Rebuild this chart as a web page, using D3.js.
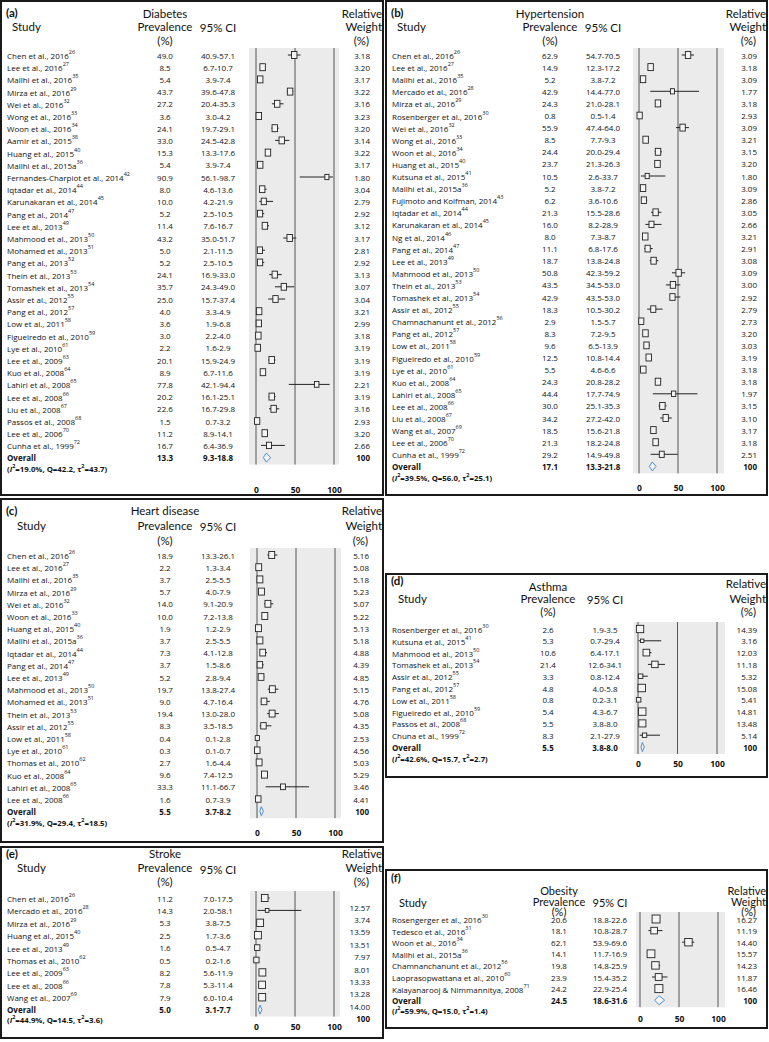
<!DOCTYPE html>
<html><head><meta charset="utf-8">
<script src="https://cdn.jsdelivr.net/npm/d3@7"></script>
<style>body{margin:0;background:#fff}svg{display:block}</style>
</head><body>
<svg id="c" width="769" height="1042"></svg>
<script>
const axisTicks = [0, 50, 100];

// (a) Diabetes
const diabetesStudies = ["Chen et al., 2016","Lee et al., 2016","Mallhi et al., 2016","Mirza et al., 2016","Wei et al., 2016","Wong et al., 2016","Woon et al., 2016","Aamir et al., 2015","Huang et al., 2015","Mallhi et al., 2015a","Fernandes-Charpiot et al., 2014","Iqtadar et al., 2014","Karunakaran et al., 2014","Pang et al., 2014","Lee et al., 2013","Mahmood et al., 2013","Mohamed et al., 2013","Pang et al., 2013","Thein et al., 2013","Tomashek et al., 2013","Assir et al., 2012","Pang et al., 2012","Low et al., 2011","Figueiredo et al., 2010","Lye et al., 2010","Lee et al., 2009","Kuo et al., 2008","Lahiri et al., 2008","Lee et al., 2008","Liu et al., 2008","Passos et al., 2008","Lee et al., 2006","Cunha et al., 1999"];
const diabetesRefs = ["26","27","35","29","32","33","34","38","40","36","42","44","45","47","49","50","51","52","53","54","55","57","58","59","61","63","64","65","66","67","68","70","72"];
const diabetesPrev = [49.0,8.5,5.4,43.7,27.2,3.6,24.1,33.0,15.3,5.4,90.9,8.0,10.0,5.2,11.4,43.2,5.0,5.2,24.1,35.7,25.0,4.0,3.6,3.0,2.2,20.1,8.9,77.8,20.2,22.6,1.5,11.2,16.7];
const diabetesLow = [40.9,6.7,3.9,39.6,20.4,3.0,19.7,24.5,13.3,3.9,56.1,4.6,4.2,2.5,7.6,35.0,2.1,2.5,16.9,24.3,15.7,3.3,1.9,2.2,1.6,15.9,6.7,42.1,16.1,16.7,0.7,8.9,6.4];
const diabetesHigh = [57.1,10.7,7.4,47.8,35.3,4.2,29.1,42.8,17.6,7.4,98.7,13.6,21.9,10.5,16.7,51.7,11.5,10.5,33.0,49.0,37.4,4.9,6.8,4.0,2.9,24.9,11.6,94.4,25.1,29.8,3.2,14.1,36.9];
const diabetesWeight = [3.18,3.20,3.17,3.22,3.16,3.23,3.20,3.14,3.22,3.17,1.80,3.04,2.79,2.92,3.12,3.17,2.81,2.92,3.13,3.07,3.04,3.21,2.99,3.18,3.19,3.19,3.19,2.21,3.19,3.16,2.93,3.20,2.66];
const diabetesOverall = [13.3, 9.3, 18.8];
const diabetesHet = [19.0, 42.2, 43.7];

// (b) Hypertension
const hyperStudies = ["Chen et al., 2016","Lee et al., 2016","Mallhi et al., 2016","Mercado et al., 2016","Mirza et al., 2016","Rosenberger et al., 2016","Wei et al., 2016","Wong et al., 2016","Woon et al., 2016","Huang et al., 2015","Kutsuna et al., 2015","Mallhi et al., 2015a","Fujimoto and Koifman, 2014","Iqtadar et al., 2014","Karunakaran et al., 2014","Ng et al., 2014","Pang et al., 2014","Lee et al., 2013","Mahmood et al., 2013","Thein et al., 2013","Tomashek et al., 2013","Assir et al., 2012","Chamnachanunt et al., 2012","Pang et al., 2012","Low et al., 2011","Figueiredo et al., 2010","Lye et al., 2010","Kuo et al., 2008","Lahiri et al., 2008","Lee et al., 2008","Liu et al., 2008","Wang et al., 2007","Lee et al., 2006","Cunha et al., 1999"];
const hyperRefs = ["26","27","35","28","29","30","32","33","34","40","41","36","43","44","45","46","47","49","50","53","54","55","56","57","58","59","61","64","65","66","67","69","70","72"];
const hyperPrev = [62.9,14.9,5.2,42.9,24.3,0.8,55.9,8.5,24.4,23.7,10.5,5.2,6.2,21.3,16.0,8.0,11.1,18.7,50.8,43.5,42.9,18.3,2.9,8.3,9.6,12.5,5.5,24.3,44.4,30.0,34.2,18.5,21.3,29.2];
const hyperLow = [54.7,12.3,3.8,14.4,21.0,0.5,47.4,7.7,20.0,21.3,2.6,3.8,3.6,15.5,8.2,7.3,6.8,13.8,42.3,34.5,43.5,10.5,1.5,7.2,6.5,10.8,4.6,20.8,17.7,25.1,27.2,15.6,18.2,14.9];
const hyperHigh = [70.5,17.2,7.2,77.0,28.1,1.4,64.0,9.3,29.4,26.3,33.7,7.2,10.6,28.6,28.9,8.7,17.6,24.8,59.2,53.0,53.0,30.2,5.7,9.5,13.9,14.4,6.6,28.2,74.9,35.3,42.0,21.8,24.8,49.8];
const hyperWeight = [3.09,3.18,3.09,1.77,3.18,2.93,3.09,3.21,3.15,3.20,1.80,3.09,2.86,3.05,2.66,3.21,2.91,3.08,3.09,3.00,2.92,2.79,2.73,3.20,3.03,3.19,3.18,3.18,1.97,3.15,3.10,3.17,3.18,2.51];
const hyperOverall = [17.1, 13.3, 21.8];
const hyperHet = [39.5, 56.0, 25.1];

// (c) Heart disease
const heartStudies = ["Chen et al., 2016","Lee et al., 2016","Mallhi et al., 2016","Mirza et al., 2016","Wei et al., 2016","Woon et al., 2016","Huang et al., 2015","Mallhi et al., 2015a","Iqtadar et al., 2014","Pang et al., 2014","Lee et al., 2013","Mahmood et al., 2013","Mohamed et al., 2013","Thein et al., 2013","Assir et al., 2012","Low et al., 2011","Lye et al., 2010","Thomas et al., 2010","Kuo et al., 2008","Lahiri et al., 2008","Lee et al., 2008"];
const heartRefs = ["26","27","35","29","32","33","40","36","44","47","49","50","51","53","55","58","61","62","64","65","66"];
const heartPrev = [18.9,2.2,3.7,5.7,14.0,10.0,1.9,3.7,7.3,3.7,5.2,19.7,9.0,19.4,8.3,0.4,0.3,2.7,9.6,33.3,1.6];
const heartLow = [13.3,1.3,2.5,4.0,9.1,7.2,1.2,2.5,4.1,1.5,2.8,13.8,4.7,13.0,3.5,0.1,0.1,1.6,7.4,11.1,0.7];
const heartHigh = [26.1,3.4,5.5,7.9,20.9,13.8,2.9,5.5,12.8,8.6,9.4,27.4,16.4,28.0,18.5,2.8,0.7,4.4,12.5,66.7,3.9];
const heartWeight = [5.16,5.08,5.18,5.23,5.07,5.22,5.13,5.18,4.88,4.39,4.85,5.15,4.76,5.08,4.35,2.53,4.56,5.03,5.29,3.46,4.41];
const heartOverall = [5.5, 3.7, 8.2];
const heartHet = [31.9, 29.4, 18.5];

// (d) Asthma
const asthmaStudies = ["Rosenberger et al., 2016","Kutsuna et al., 2015","Mahmood et al., 2013","Tomashek et al., 2013","Assir et al., 2012","Pang et al., 2012","Low et al., 2011","Figueiredo et al., 2010","Passos et al., 2008","Chuna et al., 1999"];
const asthmaRefs = ["30","41","50","54","55","57","58","59","68","72"];
const asthmaPrev = [2.6,5.3,10.6,21.4,3.3,4.8,0.8,5.4,5.5,8.3];
const asthmaLow = [1.9,0.7,6.4,12.6,0.8,4.0,0.2,4.3,3.8,2.1];
const asthmaHigh = [3.5,29.4,17.1,34.1,12.4,5.8,3.1,6.7,8.0,27.9];
const asthmaWeight = [14.39,3.16,12.03,11.18,5.32,15.08,5.41,14.81,13.48,5.14];
const asthmaOverall = [5.5, 3.8, 8.0];
const asthmaHet = [42.6, 15.7, 2.7];

// (e) Stroke
const strokeStudies = ["Chen et al., 2016","Mercado et al., 2016","Mirza et al., 2016","Huang et al., 2015","Lee et al., 2013","Thomas et al., 2010","Lee et al., 2009","Lee et al., 2008","Wang et al., 2007"];
const strokeRefs = ["26","28","29","40","49","62","63","66","69"];
const strokePrev = [11.2,14.3,5.3,2.5,1.6,0.5,8.2,7.8,7.9];
const strokeLow = [7.0,2.0,3.8,1.7,0.5,0.2,5.6,5.3,6.0];
const strokeHigh = [17.5,58.1,7.5,3.6,4.7,1.6,11.9,11.4,10.4];
const strokeWeight = [12.57,3.74,13.59,13.51,7.97,8.01,13.33,13.28,14.00];
const strokeOverall = [5.0, 3.1, 7.7];
const strokeHet = [44.9, 14.5, 3.6];

// (f) Obesity
const obesityStudies = ["Rosengerger et al., 2016","Tedesco et al., 2016","Woon et al., 2016","Mallhi et al., 2015a","Chamnanchanunt et al., 2012","Laoprasopwattana et al., 2010","Kalayanarooj & Nimmannitya, 2008"];
const obesityRefs = ["30","31","34","36","56","60","71"];
const obesityPrev = [20.6,18.1,62.1,14.1,19.8,23.9,24.2];
const obesityLow = [18.8,10.8,53.9,11.7,14.8,15.4,22.9];
const obesityHigh = [22.6,28.7,69.6,16.9,25.9,35.2,25.4];
const obesityWeight = [16.27,11.19,14.40,15.57,14.23,11.87,16.46];
const obesityOverall = [24.5, 18.6, 31.6];
const obesityHet = [59.9, 15.0, 1.4];

const svg = d3.select("#c");
const f1 = d3.format(".1f"), f2 = d3.format(".2f");
const rowFont = "'Open Sans', 'Noto Sans', sans-serif";
const headFont = "Lato, 'Liberation Sans', sans-serif";

function drawPanel(L, D) {
  const g = svg.append("g");
  const n = D.studies.length;
  const idx = d3.range(n);
  const y = d3.scaleLinear().domain([0, n]).range([L.row0, L.row0 + n * L.sp]);
  const x = d3.scaleLinear().domain([0, 100]).range([L.x0, L.x100]);
  const top = y(0) - 7, bot = y(n) + 7;

  g.append("rect").attr("x", L.bgL).attr("y", top).attr("width", L.bgR - L.bgL)
    .attr("height", bot - top).attr("fill", "#ebebeb");
  g.selectAll("line.ref").data(axisTicks).join("line").attr("class", "ref")
    .attr("x1", d => x(d)).attr("x2", d => x(d)).attr("y1", top).attr("y2", bot)
    .attr("stroke", "#555").attr("stroke-width", 1);

  const H = L.head;
  const hdr = (t, xx, yy, anchor, bold) => g.append("text").attr("x", xx).attr("y", yy)
    .attr("text-anchor", anchor).attr("dominant-baseline", "central")
    .attr("font-family", headFont).attr("font-size", L.headSize || 11.5)
    .attr("font-weight", bold ? 700 : 400).attr("fill", "#111").text(t);
  hdr(D.label, L.bx + 5, H.label, "start", true);
  hdr(D.title, L.valC, H.title, "middle");
  hdr("Study", L.bx + L.studyX, H.study, "start");
  hdr("Prevalence", L.valC, H.prev, "middle");
  hdr("95% CI", L.ciC, H.ci, "middle");
  hdr("(%)", L.valC, H.pct, "middle");
  hdr("Relative", L.bx + L.bw - 1, H.rel, "end");
  hdr("Weight", L.bx + L.bw - 1, H.weight, "end");
  hdr("(%)", L.wR - 1, H.wpct, "end");

  const txt = (sel) => sel.attr("dominant-baseline", "central").attr("font-family", rowFont)
    .attr("font-size", 8).attr("fill", "#111");

  const st = g.selectAll("text.study").data(idx).join("text").attr("class", "study")
    .attr("x", L.bx + 6).attr("y", i => y(i)).call(txt);
  st.append("tspan").text(i => D.studies[i]);
  st.append("tspan").attr("font-size", 5.5).attr("dy", -3).text(i => D.refs[i]);

  g.selectAll("text.val").data(idx).join("text").attr("class", "val")
    .attr("x", L.valC).attr("y", i => y(i)).attr("text-anchor", "middle").call(txt)
    .text(i => f1(D.prev[i]));
  g.selectAll("text.ci").data(idx).join("text").attr("class", "ci")
    .attr("x", L.ciC).attr("y", i => y(i)).attr("text-anchor", "middle").call(txt)
    .text(i => f1(D.low[i]) + "-" + f1(D.high[i]));
  g.selectAll("text.wt").data(idx).join("text").attr("class", "wt")
    .attr("x", L.wR).attr("y", i => y(i) + L.wOff).attr("text-anchor", "end").call(txt)
    .text(i => f2(D.weight[i]));

  g.selectAll("line.cil").data(idx).join("line").attr("class", "cil")
    .attr("x1", i => x(D.low[i])).attr("x2", i => x(D.high[i]))
    .attr("y1", i => y(i)).attr("y2", i => y(i)).attr("stroke", "#222").attr("stroke-width", 1);
  const wmax = d3.max(D.weight);
  const sz = i => Math.sqrt(D.weight[i] / wmax);
  g.selectAll("rect.box").data(idx).join("rect").attr("class", "box")
    .attr("x", i => x(D.prev[i]) - L.boxW * sz(i) / 2)
    .attr("y", i => y(i) - L.boxH * sz(i) / 2)
    .attr("width", i => L.boxW * sz(i)).attr("height", i => L.boxH * sz(i))
    .attr("fill", "#f4f4f4").attr("stroke", "#222").attr("stroke-width", 0.9);

  // overall
  const yo = y(n);
  const bold = (sel) => sel.call(txt).attr("font-weight", 700);
  g.append("text").attr("x", L.bx + 6).attr("y", yo).call(bold).text("Overall");
  g.append("text").attr("x", L.valC).attr("y", yo).attr("text-anchor", "middle").call(bold).text(f1(D.overall[0]));
  g.append("text").attr("x", L.ciC).attr("y", yo).attr("text-anchor", "middle").call(bold)
    .text(f1(D.overall[1]) + "-" + f1(D.overall[2]));
  g.append("text").attr("x", L.wR).attr("y", yo + L.wOff).attr("text-anchor", "end").call(bold).text("100");
  const dh = 4.5;
  g.append("polygon").attr("points", [
      [x(D.overall[1]), yo], [x(D.overall[0]), yo - dh], [x(D.overall[2]), yo], [x(D.overall[0]), yo + dh]
    ].map(p => p.join(",")).join(" "))
    .attr("fill", "#f4f4f4").attr("stroke", "#4a8fd6").attr("stroke-width", 1);

  // heterogeneity
  const het = g.append("text").attr("x", L.bx + 6).attr("y", L.hetY).call(bold).attr("font-size", 7.8);
  het.append("tspan").text("(");
  het.append("tspan").attr("font-style", "italic").text("I");
  het.append("tspan").attr("font-size", 5.5).attr("dy", -3).text("2");
  het.append("tspan").attr("dy", 3).text("=" + f1(D.het[0]) + "%, Q=" + f1(D.het[1]) + ", \u03c4");
  het.append("tspan").attr("font-size", 5.5).attr("dy", -3).text("2");
  het.append("tspan").attr("dy", 3).text("=" + f1(D.het[2]) + ")");

  // axis
  const ax = g.append("g").attr("transform", `translate(0,${L.axisY})`)
    .call(d3.axisBottom(x).tickValues(axisTicks).tickSize(0).tickFormat(d3.format("d")));
  ax.select(".domain").remove();
  ax.selectAll("text").attr("y", 0).attr("dy", "0.35em").attr("font-family", rowFont)
    .attr("font-size", 8.5).attr("font-weight", 700).attr("fill", "#111");

  g.append("rect").attr("x", L.bx).attr("y", L.by).attr("width", L.bw).attr("height", L.bh)
    .attr("fill", "none").attr("stroke", "#1a1a1a").attr("stroke-width", 2);
}

const headAB = {label: 12, title: 13, study: 26, prev: 26, ci: 27, pct: 40, rel: 13, weight: 26, wpct: 40};

drawPanel({bx:1, by:1, bw:382, bh:494, row0:55, sp:12.2, x0:256, x100:334, bgL:249, bgR:339,
  valC:165, ciC:218, wR:370, studyX:11, wOff:0, boxW:5.5, boxH:7, hetY:468.5, axisY:490, head: headAB},
  {label:"(a)", title:"Diabetes", studies:diabetesStudies, refs:diabetesRefs, prev:diabetesPrev,
   low:diabetesLow, high:diabetesHigh, weight:diabetesWeight, overall:diabetesOverall, het:diabetesHet});

drawPanel({bx:386, by:1, bw:381, bh:494, row0:55, sp:12.1, x0:639, x100:717, bgL:633, bgR:724,
  valC:550, ciC:603, wR:757, studyX:11, wOff:0, boxW:5.5, boxH:7, hetY:477.5, axisY:488, head: headAB},
  {label:"(b)", title:"Hypertension", studies:hyperStudies, refs:hyperRefs, prev:hyperPrev,
   low:hyperLow, high:hyperHigh, weight:hyperWeight, overall:hyperOverall, het:hyperHet});

drawPanel({bx:1, by:499, bw:382, bh:343, row0:555, sp:12.2, x0:257, x100:335, bgL:250, bgR:341,
  valC:165, ciC:218, wR:369, studyX:16, wOff:0, boxW:6, boxH:7, hetY:822.5, axisY:833,
  head:{label:510, title:510, study:525, prev:525, ci:526, pct:540, rel:510, weight:525, wpct:540}},
  {label:"(c)", title:"Heart disease", studies:heartStudies, refs:heartRefs, prev:heartPrev,
   low:heartLow, high:heartHigh, weight:heartWeight, overall:heartOverall, het:heartHet});

drawPanel({bx:386, by:574, bw:381, bh:203, row0:629, sp:11.8, x0:638, x100:717, bgL:634, bgR:725,
  valC:548, ciC:605, wR:757, studyX:12, wOff:0, boxW:7.5, boxH:7.5, hetY:758.5, axisY:764,
  head:{label:580, title:586, study:598, prev:598, ci:599, pct:611, rel:583, weight:598, wpct:611}},
  {label:"(d)", title:"Asthma", studies:asthmaStudies, refs:asthmaRefs, prev:asthmaPrev,
   low:asthmaLow, high:asthmaHigh, weight:asthmaWeight, overall:asthmaOverall, het:asthmaHet});

drawPanel({bx:1, by:847, bw:382, bh:191, row0:898, sp:12.4, x0:256, x100:334, bgL:250, bgR:340,
  valC:165, ciC:218, wR:370, studyX:16, wOff:9, boxW:7, boxH:7.5, hetY:1020, axisY:1027,
  head:{label:853, title:853, study:867, prev:867, ci:869, pct:881, rel:853, weight:867, wpct:881}},
  {label:"(e)", title:"Stroke", studies:strokeStudies, refs:strokeRefs, prev:strokePrev,
   low:strokeLow, high:strokeHigh, weight:strokeWeight, overall:strokeOverall, het:strokeHet});

drawPanel({bx:386, by:870, bw:381, bh:158, row0:919, sp:11.6, x0:640, x100:718, bgL:636, bgR:725,
  valC:559, ciC:610, wR:757, studyX:13, wOff:0, boxW:8, boxH:8, hetY:1011, axisY:1019, headSize:11,
  head:{label:877, title:890, study:902, prev:901, ci:902, pct:911, rel:890, weight:901, wpct:911}},
  {label:"(f)", title:"Obesity", studies:obesityStudies, refs:obesityRefs, prev:obesityPrev,
   low:obesityLow, high:obesityHigh, weight:obesityWeight, overall:obesityOverall, het:obesityHet});
</script>
</body></html>
